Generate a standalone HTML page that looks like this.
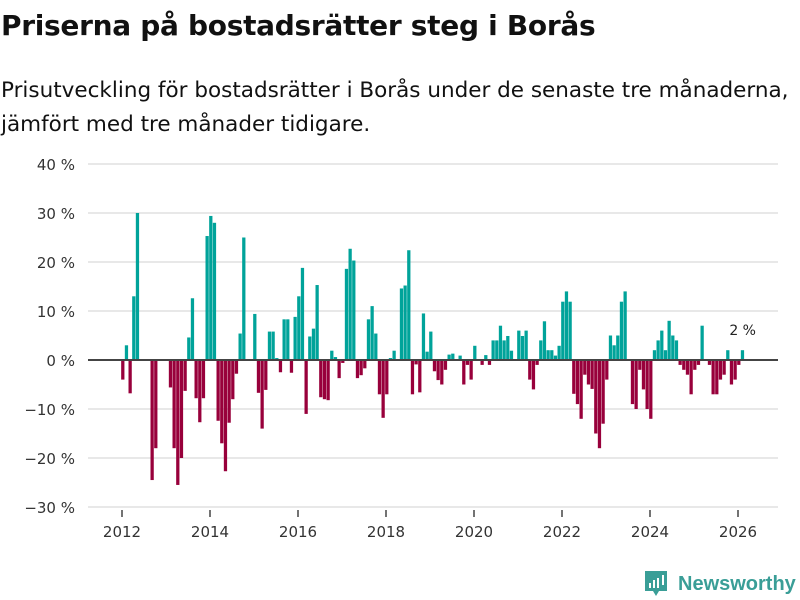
<!DOCTYPE html>
<html><head><meta charset="utf-8"><style>
body{margin:0;background:#fff;font-family:"DejaVu Sans","Liberation Sans",sans-serif;}
#wrap{position:relative;width:800px;height:600px;overflow:hidden;}
h1{position:absolute;left:1px;top:9px;margin:0;font-size:28px;font-weight:bold;color:#111;letter-spacing:-0.3px;}
.sub{position:absolute;left:1px;top:74px;margin:0;font-size:21.5px;line-height:34px;color:#111;}
svg{position:absolute;left:0;top:0;}
</style></head><body>
<div id="wrap">
<h1>Priserna på bostadsrätter steg i Borås</h1>
<p class="sub">Prisutveckling för bostadsrätter i Borås under de senaste tre månaderna,<br>jämfört med tre månader tidigare.</p>
<svg id="chart" width="800" height="600"></svg>
</div>
<script>
const values=[-4,3,-6.8,13,30,0,0,0,-24.5,-18,0,0,0,-5.6,-18,-25.5,-20,-6.3,4.6,12.6,-7.8,-12.7,-7.8,25.3,29.4,28,-12.4,-17,-22.7,-12.8,-8,-2.8,5.4,25,0,0,9.4,-6.7,-14,-6.1,5.8,5.8,0.4,-2.5,8.3,8.3,-2.6,8.8,13,18.8,-11,4.8,6.4,15.3,-7.6,-8,-8.2,1.9,0.6,-3.7,-0.6,18.6,22.7,20.3,-3.7,-3.1,-1.7,8.3,11,5.4,-7,-11.8,-7,0.4,1.9,0,14.6,15.2,22.4,-7,-0.9,-6.6,9.5,1.7,5.8,-2.3,-4.1,-5,-2,1.1,1.3,0,0.9,-5,-1,-4,2.9,0,-1,1,-1,4,4,7,4,4.9,1.9,0,6,4.9,6,-4,-6,-1,4,7.9,2,2,0.9,2.9,11.9,14,11.9,-6.9,-9,-12,-3,-5,-5.9,-15,-18,-13,-4,5,3,5,11.9,14,0,-9,-10,-2,-6,-10,-12,2,4,6,2,8,5,4,-1,-2,-3,-7,-2,-1,7,0,-1,-7,-7,-4,-3,2,-5,-4,-1,2];
const startYear=2012;
const yTicks=[40,30,20,10,0,-10,-20,-30];
const xTicks=[2012,2014,2016,2018,2020,2022,2024,2026];
const lastLabel="2 %";
const NS="http://www.w3.org/2000/svg";
const svg=document.getElementById('chart');
function y(v){return 360-v*4.9;}
function xYear(yr){return 122+(yr-2012)*44;}
function xMonth(i){return xYear(startYear+i/12)+1;}
function mk(t,a){const e=document.createElementNS(NS,t);for(const k in a)e.setAttribute(k,a[k]);svg.appendChild(e);return e;}
yTicks.forEach(v=>{
  if(v!==0){const g=mk('line',{x1:88,x2:778,y1:y(v),y2:y(v),stroke:'#e0e0e0','stroke-width':1.5});
  
  }
  const t=mk('text',{x:75,y:y(v)+6,'text-anchor':'end','font-size':15,fill:'#333'});
  t.textContent=(v<0?'\u2212'+(-v):v)+' %';
  
  
});
xTicks.forEach(yr=>{
  const l=mk('line',{x1:xYear(yr),x2:xYear(yr),y1:510,y2:517,stroke:'#444','stroke-width':1.5});
  
  
  const t=mk('text',{x:xYear(yr),y:537,'text-anchor':'middle','font-size':15,fill:'#333'});
  t.textContent=yr;
  
  
});
const bw=44/12;
values.forEach((v,i)=>{
  if(v===0)return;
  const x0=xMonth(i)-bw/2;
  const r=mk('rect',{x:x0,y:Math.min(y(v),360),width:bw-0.4,height:Math.abs(y(v)-360),fill:v>0?'#00a39a':'#98003b'});
  
  
});
const z=mk('line',{x1:88,x2:778,y1:360,y2:360,stroke:'#444','stroke-width':2});


const lt=mk('text',{x:xMonth(values.length-1),y:335,'text-anchor':'middle','font-size':14,fill:'#222'});
lt.textContent=lastLabel;


const lg=mk('g',{});


const box=document.createElementNS(NS,'path');
box.setAttribute('d','M645 571h22v20h-8l-3 5l-3-5h-8z');
box.setAttribute('fill','#3a9e97');


lg.appendChild(box);
[[649,583,2,5],[653,580,2,8],[657,578,2,10],[662,575,2,10]].forEach(b=>{const r=document.createElementNS(NS,'rect');r.setAttribute('x',b[0]);r.setAttribute('y',b[1]);r.setAttribute('width',b[2]);r.setAttribute('height',b[3]);r.setAttribute('fill','#fff');lg.appendChild(r);});
const lt2=document.createElementNS(NS,'text');
lt2.setAttribute('x',678);lt2.setAttribute('y',590);lt2.setAttribute('font-size',20);lt2.setAttribute('font-weight','bold');lt2.setAttribute('fill','#3a9e97');
lt2.setAttribute('font-family','Liberation Sans, sans-serif');
lt2.textContent='Newsworthy';


lg.appendChild(lt2);
</script>
</body></html>
